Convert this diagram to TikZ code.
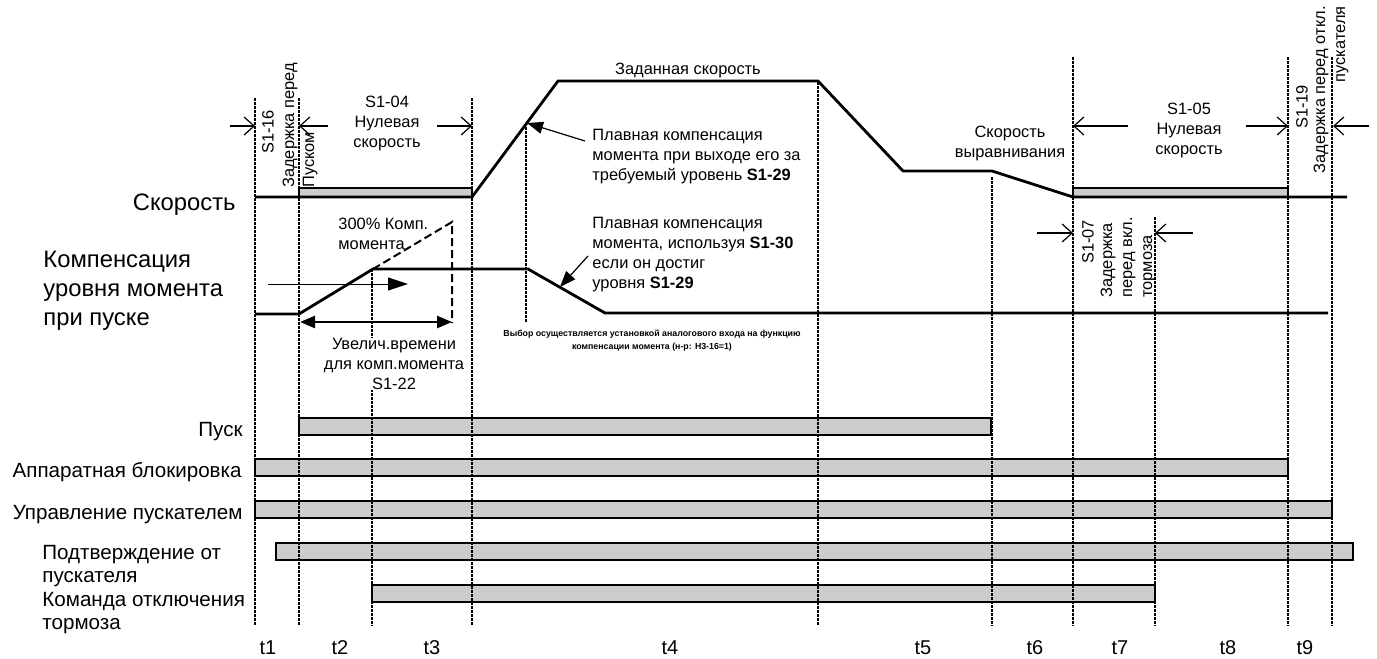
\documentclass[tikz,border=0pt]{standalone}
\usepackage{fontspec}
\setmainfont{Liberation Sans}
\usetikzlibrary{arrows.meta}

\begin{document}
\begin{tikzpicture}[x=0.5pt, y=-0.5pt,
  big/.style={font=\fontsize{10.3}{11.5}\selectfont, inner sep=0pt, align=left},
  txt/.style={font=\fontsize{8.2}{10}\selectfont, inner sep=0pt, align=center},
  tiny/.style={font=\fontsize{4.4}{6.5}\selectfont\bfseries, inner sep=0pt, align=center},
  vtxt/.style={txt, rotate=90},
  trace/.style={line width=1.4pt},
  tmark/.style={line width=1.1pt, dash pattern=on 1.5pt off 0.5pt},
  sigbar/.style={draw, line width=0.75pt, fill=black!20},
  dim/.style={-{Straight Barb[length=5pt,width=9pt]}, line width=0.6pt},
  ptr/.style={-{Triangle[length=8pt,width=6pt]}, line width=0.6pt}]

\useasboundingbox (0,0) rectangle (1377,659);

% signal bars
\foreach \a/\b/\y in {299/991/418, 255/1288/459, 255/1332/501, 276/1353/543, 372/1155/585}
  \draw[sigbar] (\a,\y) rectangle (\b,\y+17);
\draw[sigbar, line width=0.6pt] (299,188) rectangle (472,197);
\draw[sigbar, line width=0.6pt] (1073,188) rectangle (1288,197);

% time marks
\foreach \x/\top/\bot in {255/98/626, 299/98/626, 372/269/626, 472/98/626, 526/123/323,
                          818/82/626, 992/177/626, 1073/57/626, 1155/217/626, 1288/57/626, 1332/57/626}
  \draw[tmark] (\x,\top) -- (\x,\bot);

% speed and torque
\draw[trace] (255,197) -- (472,197) -- (558,81) -- (818,81) -- (903,171) -- (992,171)
  -- (1073,197) -- (1347,197);
\draw[trace] (255,314) -- (299,314) -- (373,269) -- (528,269) -- (605,313) -- (1328,313);
\draw[line width=1pt, dash pattern=on 4pt off 2pt] (373,269) -- (452,222) -- (452,323);
\coordinate (spdhit) at (527,123);
\coordinate (trqhit) at (560,287);

% left labels
\node[big, anchor=east, font=\fontsize{11.9}{14.5}\selectfont] (lspd) at (236,205) {Скорость};
\node[big, anchor=west, font=\fontsize{11.9}{14.5}\selectfont] (ltrq) at (43,291)
  {Компенсация\\уровня момента\\при пуске};
\node[big, anchor=east] (lrun) at (243,432) {Пуск};
\node[big, anchor=east] (lhwb) at (242,472) {Аппаратная блокировка};
\node[big, anchor=east] (lmcc) at (243,515) {Управление пускателем};
\node[big, anchor=west] (lack) at (42,566) {Подтверждение от\\пускателя};
\node[big, anchor=west] (lbrk) at (42,613) {Команда отключения\\тормоза};

% start section
\node[vtxt] (s116) at (268,132) {S1-16};
\node[vtxt, anchor=west, align=left] (dstart) at (300,188) {Задержка перед\\Пуском};
\node[txt] (s104) at (387,123) {S1-04\\Нулевая\\скорость};
\draw[dim] (230,126) -- (255,126);
\draw[dim] (328,126) -- (299,126);
\draw[dim] (437,126) -- (472,126);

\node[txt, anchor=west, align=left] (pct) at (338,234) {300\% Комп.\\момента};
\draw[ptr, -{Triangle[length=10pt,width=6.5pt]}, line width=0.5pt] (268,284) -- (408,284);
\draw[{Triangle[length=7.5pt,width=6pt]}-{Triangle[length=7.5pt,width=6pt]}, line width=1.2pt]
  (300,322) -- (452,322);
\node[txt, fill=white] (s122) at (394,364) {Увелич.времени\\для комп.момента\\S1-22};

% middle section
\node[txt] (setp) at (688,70) {Заданная скорость};
\node[txt, anchor=west, align=left] (smth1) at (592,157)
  {Плавная компенсация\\момента при выходе его за\\требуемый уровень \textbf{S1-29}};
\draw[ptr] (585,141) -- (spdhit);
\node[txt, anchor=west, align=left] (smth2) at (592,255)
  {Плавная компенсация\\момента, используя \textbf{S1-30}\\если он достиг\\уровня \textbf{S1-29}};
\draw[ptr] (588,256) -- (trqhit);
\node[tiny] (sel) at (652,341)
  {Выбор осуществляется установкой аналогового входа на функцию\\компенсации момента (н-р: H3-16=1)};

% stop section
\node[txt] (lvl) at (1010,143) {Скорость\\выравнивания};
\node[txt] (s105) at (1189,130) {S1-05\\Нулевая\\скорость};
\draw[dim] (1128,126) -- (1073,126);
\draw[dim] (1246,126) -- (1288,126);
\node[vtxt] (s119) at (1302,107) {S1-19};
\node[vtxt, anchor=east, align=right] (dstop) at (1331,6) {Задержка перед откл.\\пускателя};
\draw[dim] (1369,126) -- (1333,126);

\node[vtxt] (s107) at (1088,242) {S1-07};
\node[vtxt, anchor=west, align=left] (dbrk) at (1128,298) {Задержка\\перед вкл.\\тормоза};
\draw[dim] (1037,233) -- (1073,233);
\draw[dim] (1193,233) -- (1155,233);

% intervals
\foreach \x/\t in {268/t1, 340/t2, 432/t3, 670/t4, 923/t5, 1035/t6, 1120/t7, 1228/t8, 1305/t9}
  \node[txt, font=\fontsize{10}{12}\selectfont] (\t) at (\x,648) {\t};

\end{tikzpicture}
\end{document}
